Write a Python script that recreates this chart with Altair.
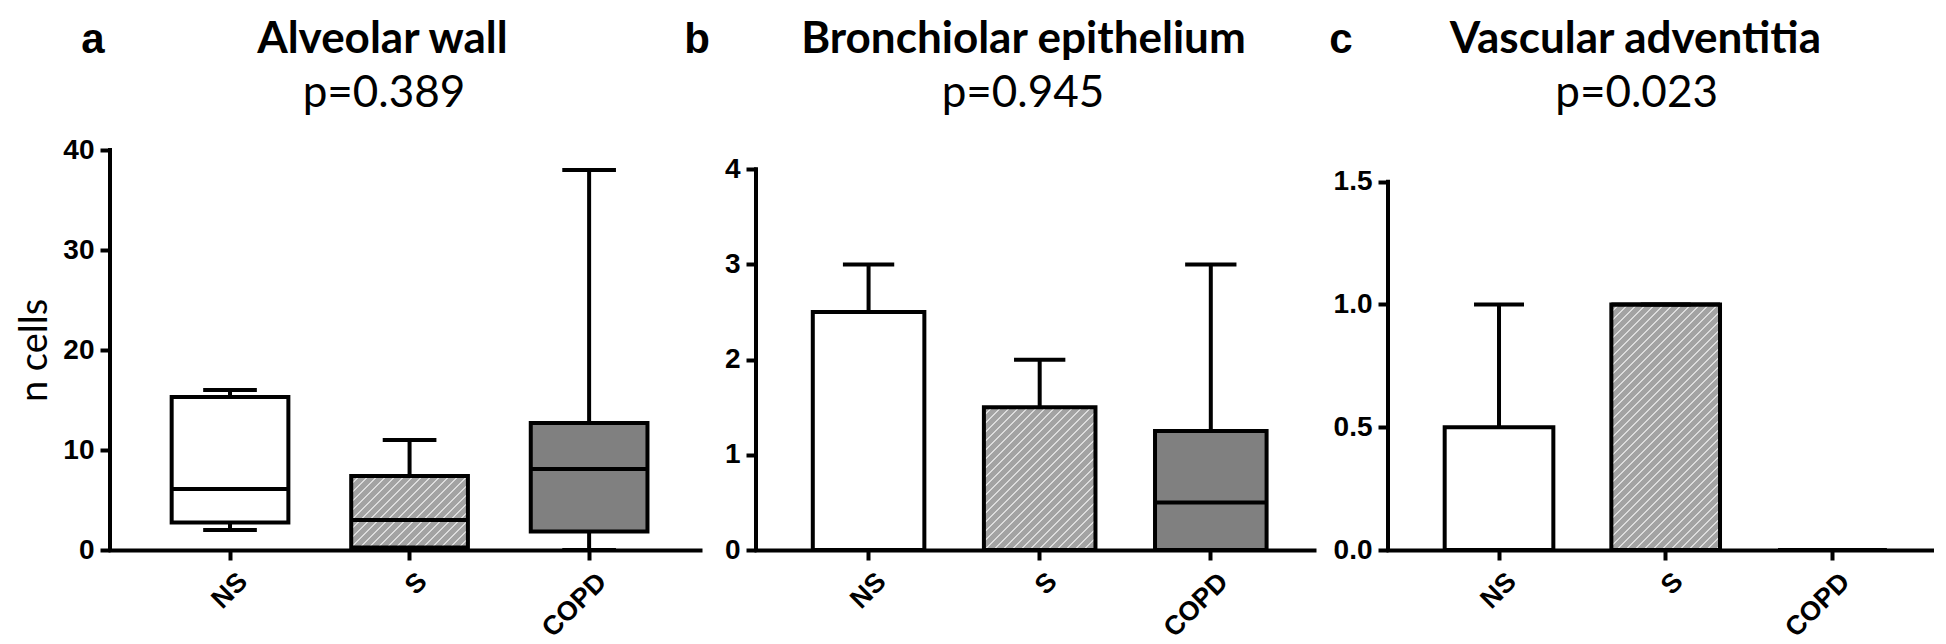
import math
import altair as alt
import pandas as pd

groups = ["NS", "S", "COPD"]

# Panel a: Alveolar wall (box: min, q1, median, q3, max)
a_min = [2.0, 0.0, 0.0]
a_q1 = [2.75, 0.25, 1.85]
a_med = [6.1, 3.0, 8.1]
a_q3 = [15.3, 7.4, 12.7]
a_max = [16.0, 11.0, 38.0]

# Panel b: Bronchiolar epithelium
b_min = [0.0, 0.0, 0.0]
b_q1 = [0.0, 0.0, 0.0]
b_med = [0.0, 0.0, 0.5]
b_q3 = [2.5, 1.5, 1.25]
b_max = [3.0, 2.0, 3.0]

# Panel c: Vascular adventitia
c_min = [0.0, 0.0, 0.0]
c_q1 = [0.0, 0.0, 0.0]
c_med = [0.0, 1.0, 0.0]
c_q3 = [0.5, 1.0, 0.0]
c_max = [1.0, 1.0, 0.0]

titles = ["Alveolar wall", "Bronchiolar epithelium", "Vascular adventitia"]
pvalues = ["p=0.389", "p=0.945", "p=0.023"]
letters = ["a", "b", "c"]
ticks_a = [0, 10, 20, 30, 40]
ticks_b = [0, 1, 2, 3, 4]
ticks_c = [0.0, 0.5, 1.0, 1.5]

H = 400
LABEL_FONT = "Liberation Sans"
TITLE_FONT = "Lato"
TITLE_Y = -97.2
P_Y = -43.0


def hatch_gradient(w, h, period=9.0, line=1.9, base="#a3a3a3", light="#dcdcdc"):
    L = w + h
    k = (w + h) / (w * w + h * h)
    stops = []
    n = int(math.ceil(L / period))
    for i in range(n):
        o0 = min(1.0, i * period / L)
        o1 = min(1.0, (i * period + period - line) / L)
        o2 = min(1.0, (i + 1) * period / L)
        stops += [
            alt.GradientStop(color=base, offset=o0),
            alt.GradientStop(color=base, offset=o1),
            alt.GradientStop(color=light, offset=o1),
            alt.GradientStop(color=light, offset=o2),
        ]
    return alt.LinearGradient(gradient="linear", stops=stops, x1=0, y1=0, x2=k * w, y2=k * h)


def panel(mins, q1s, meds, q3s, maxs, ticks, dmax, fmt, xrange_, p_in, p_out, align,
          width, letter, title, pval, title_x, p_x, letter_x, ytitle=None):
    df = pd.DataFrame({"group": groups, "mn": mins, "q1": q1s, "med": meds,
                       "q3": q3s, "mx": maxs})
    step = xrange_ / (3 - p_in + 2 * p_out)
    bw = step * (1 - p_in)
    cap = bw * 0.46

    x = alt.X("group:N", sort=groups,
              scale=alt.Scale(domain=groups, range=[0, xrange_], paddingInner=p_in,
                              paddingOuter=p_out, align=align),
              axis=alt.Axis(title=None, labelAngle=-45, labelFont=LABEL_FONT,
                            labelFontWeight="bold", labelFontSize=27, labelColor="black",
                            labelPadding=8, labelOffset=4, domainColor="black",
                            domainWidth=4, domainCap="square", tickColor="black",
                            tickWidth=4, tickSize=10))
    yax = dict(values=ticks, format=fmt, domain=False, grid=False, tickColor="black",
               tickWidth=4, tickSize=10, labelFont=LABEL_FONT, labelFontWeight="bold",
               labelFontSize=28, labelColor="black", labelPadding=6)
    if ytitle:
        yax.update(title=ytitle, titleFont=TITLE_FONT, titleFontWeight="normal",
                   titleFontSize=38, titleColor="black", titlePadding=8)
    else:
        yax.update(title=None)
    yscale = alt.Scale(domain=[0, dmax], nice=False, zero=True)
    y = lambda f: alt.Y(f"{f}:Q", scale=yscale, axis=alt.Axis(**yax))

    base = alt.Chart(df)
    whisk = base.mark_rule(color="black", strokeWidth=4).encode(x=x, y=y("mn"), y2="mx")
    box_plain = base.transform_filter("datum.group != 'S'").mark_bar(
        stroke="black", strokeWidth=4, opacity=1).encode(
        x=x, y=y("q1"), y2="q3",
        fill=alt.Fill("group:N", scale=alt.Scale(domain=["NS", "COPD"],
                                                 range=["#ffffff", "#808080"]),
                      legend=None))
    s_idx = groups.index("S")
    hpx = (q3s[s_idx] - q1s[s_idx]) * H / dmax
    box_s = base.transform_filter("datum.group == 'S'").mark_bar(
        stroke="black", strokeWidth=4, opacity=1, fill=hatch_gradient(bw, hpx)).encode(
        x=x, y=y("q1"), y2="q3")
    med = base.mark_tick(color="black", thickness=4, size=bw, opacity=1).encode(
        x=x, y=y("med"))
    capmax = base.mark_tick(color="black", thickness=4, size=cap, opacity=1).encode(
        x=x, y=y("mx"))
    capmin = base.mark_tick(color="black", thickness=4, size=cap, opacity=1).encode(
        x=x, y=y("mn"))
    yline = alt.Chart(pd.DataFrame({"top": [ticks[-1]], "bot": [0]})).mark_rule(
        color="black", strokeWidth=4, strokeCap="square").encode(
        x=alt.value(0), y=alt.Y("top:Q", scale=yscale), y2="bot:Q")

    one = pd.DataFrame({"k": [0]})
    t_title = alt.Chart(one).mark_text(text=title, font=TITLE_FONT, fontWeight="bold",
                                       fontSize=44, color="black", align="center",
                                       baseline="alphabetic").encode(
        x=alt.value(title_x), y=alt.value(TITLE_Y))
    t_p = alt.Chart(one).mark_text(text=pval, font=TITLE_FONT, fontWeight="normal",
                                   fontSize=44, color="black", align="center",
                                   baseline="alphabetic").encode(
        x=alt.value(p_x), y=alt.value(P_Y))
    t_letter = alt.Chart(one).mark_text(text=letter, font=LABEL_FONT, fontWeight="bold",
                                        fontSize=42, color="black", align="center",
                                        baseline="alphabetic").encode(
        x=alt.value(letter_x), y=alt.value(TITLE_Y))

    return alt.layer(whisk, box_plain, box_s, med, capmax, capmin, yline,
                     t_title, t_p, t_letter).properties(width=width, height=H)


pa = panel(a_min, a_q1, a_med, a_q3, a_max, ticks_a, 40.0, "d", 590, 0.35, 0.318, 0.54,
           646, letters[0], titles[0], pvalues[0], 272.4, 274, -17, ytitle="n cells")
pb = panel(b_min, b_q1, b_med, b_q3, b_max, ticks_b, 4.203, "d", 558, 0.348, 0.3045, 0.545,
           632, letters[1], titles[1], pvalues[1], 267.5, 267, -58.8)
pc = panel(c_min, c_q1, c_med, c_q3, c_max, ticks_c, 1.629, ".1f", 546, 0.348, 0.312, 0.545,
           546, letters[2], titles[2], pvalues[2], 247.4, 248.6, -47.2)

chart = alt.hconcat(pa, pb, pc, spacing=0, bounds="flush").properties(
    padding={"top": 9, "left": 8, "right": 0, "bottom": 0},
    background="white",
).configure_view(stroke=None)

chart.save("out.html", embed_options={"renderer": "svg", "actions": False})
